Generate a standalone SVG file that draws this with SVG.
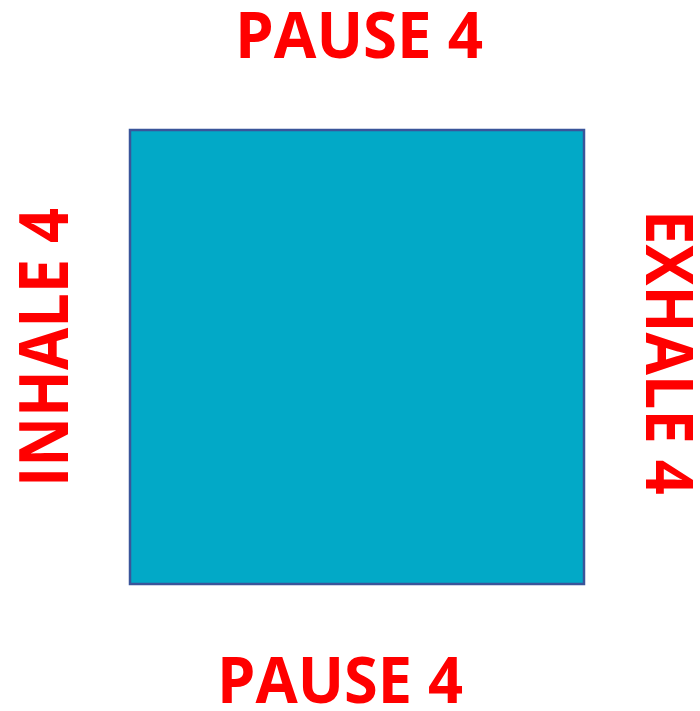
<svg xmlns="http://www.w3.org/2000/svg" width="700" height="711" viewBox="0 0 700 711">
<style>
.lbl{font-family:"Open Sans","Noto Sans","Liberation Sans",sans-serif;font-weight:bold;fill:#FF0000;}
</style>
<rect width="700" height="711" fill="#FFFFFF"/>
<g id="square">
<rect x="130" y="130" width="454" height="454" fill="#02A9C7" stroke="#3A559A" stroke-width="2.5"/>
</g>
<g id="top">
<text class="lbl" x="235" y="58" font-size="65" textLength="248" lengthAdjust="spacingAndGlyphs">PAUSE 4</text>
</g>
<g id="bottom">
<text class="lbl" x="217" y="703" font-size="65" textLength="246" lengthAdjust="spacingAndGlyphs">PAUSE 4</text>
</g>
<g id="left">
<text class="lbl" transform="translate(68,487) rotate(-90)" font-size="68" textLength="279" lengthAdjust="spacingAndGlyphs">INHALE 4</text>
</g>
<g id="right">
<text class="lbl" transform="translate(646,210) rotate(90)" font-size="67" textLength="285" lengthAdjust="spacingAndGlyphs">EXHALE 4</text>
</g>
</svg>
